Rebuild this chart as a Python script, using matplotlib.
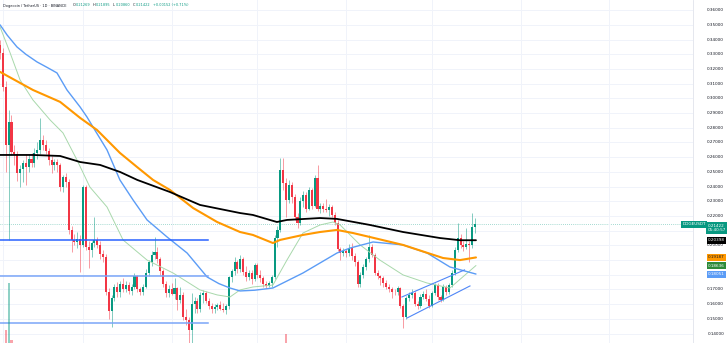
import numpy as np
import matplotlib.pyplot as plt
from matplotlib.transforms import blended_transform_factory

# DOGE/USDT daily candles, one entry per day starting Jan 31
first_open = 0.336
closes = [
    .331, .308, .268, .284, .2635, .262, .249, .252, .256, .253,
    .259, .256, .263, .265, .2717, .268, .264, .258, .255, .257,
    .2547, .2397, .2465, .2431, .2105, .2037, .2025, .2045, .2005, .2397,
    .199, .197, .2015, .2035, .200, .194, .192, .168, .1555, .164,
    .172, .168, .174, .170, .173, .169, .172, .179, .170, .168,
    .172, .181, .1887, .1935, .1955, .1905, .1825, .1735, .1675, .1705,
    .167, .171, .163, .1665, .1515, .149, .1425, .160, .1625, .157,
    .1665, .1675, .1625, .1585, .1565, .158, .1595, .157, .156, .1585,
    .1785, .1825, .1887, .184, .1905, .182, .1785, .181, .177, .1865,
    .180, .1775, .174, .1725, .1745, .1785, .205, .2105, .2513, .2425,
    .2309, .241, .233, .219, .2152, .230, .234, .225, .2377, .227,
    .2458, .225, .2265, .225, .224, .2258, .2207, .2155, .1975, .1945,
    .196, .1945, .198, .1925, .1887, .174, .180, .185, .1905, .199,
    .1935, .1812, .179, .1775, .1745, .172, .170, .1685, .168, .171,
    .159, .1513, .1642, .1665, .1676, .160, .1585, .165, .167, .1635,
    .1585, .1676, .173, .165, .163, .1717, .168, .173, .1812, .1969,
    .205, .200, .199, .201, .200, .21269, .21422,
]
highs = [
    .340, .334, .312, .292, .289, .268, .264, .255, .258, .262,
    .262, .263, .266, .270, .2867, .275, .272, .266, .261, .259,
    .259, .256, .248, .249, .245, .213, .208, .209, .207, .241,
    .241, .203, .203, .219, .206, .203, .197, .194, .171, .166,
    .174, .175, .176, .178, .176, .175, .174, .181, .180, .172,
    .174, .184, .190, .196, .2057, .199, .192, .184, .176, .173,
    .1745, .178, .172, .172, .168, .157, .151, .1676, .165, .164,
    .168, .1697, .169, .164, .161, .160, .161, .162, .161, .160,
    .179, .184, .192, .190, .1935, .192, .186, .1835, .183, .188,
    .188, .183, .179, .176, .176, .180, .207, .213, .2595, .2595,
    .246, .2445, .243, .235, .222, .233, .237, .236, .240, .239,
    .248, .2547, .229, .229, .2315, .228, .2275, .2225, .217, .199,
    .1985, .1975, .201, .2016, .195, .190, .182, .187, .192, .207,
    .201, .195, .183, .180, .179, .1765, .174, .172, .1705, .1725,
    .172, .160, .1655, .168, .170, .169, .162, .167, .169, .170,
    .166, .169, .1745, .1745, .1665, .1735, .173, .1745, .183, .199,
    .2152, .208, .203, .2118, .203, .222, .21895,
]
lows = [
    .327, .305, .250, .2035, .2615, .255, .244, .240, .243, .241,
    .250, .253, .253, .259, .262, .265, .262, .255, .249, .251,
    .250, .237, .236, .240, .208, .1955, .200, .198, .1819, .199,
    .197, .1845, .192, .199, .198, .191, .189, .166, .150, .1445,
    .162, .165, .165, .168, .168, .167, .166, .170, .168, .166,
    .166, .171, .179, .186, .191, .188, .180, .172, .165, .165,
    .166, .1635, .156, .161, .149, .146, .129, .130, .154, .154,
    .155, .161, .161, .157, .154, .154, .156, .156, .155, .1535,
    .157, .175, .180, .181, .182, .180, .176, .1765, .174, .176,
    .178, .175, .172, .171, .1717, .172, .177, .199, .2091, .238,
    .219, .229, .229, .217, .2118, .214, .226, .223, .224, .225,
    .226, .2235, .222, .223, .2225, .220, .219, .214, .196, .190,
    .1925, .192, .193, .190, .186, .1717, .172, .178, .1835, .189,
    .192, .180, .177, .173, .172, .170, .168, .1642, .166, .1665,
    .1575, .1438, .150, .162, .164, .1585, .1565, .1575, .1635, .162,
    .1575, .158, .166, .163, .1615, .162, .1665, .167, .172, .180,
    .1955, .198, .1965, .1975, .1887, .1985, .2086,
]

# visible volume bars (bar index, volume in billions)
vol_idx = [2, 3, 4, 100]
vol_val = [1.5, 7.0, 0.4, 1.05]

# moving averages read at sample bars: (bar index, price)
ma_black = [(0, .2615), (11.5, .2615), (21, .2608), (28, .2567), (35, .2547),
            (42, .2499), (48, .2445), (59.4, .2363), (69.9, .2275), (83.9, .222),
            (88.4, .2207), (96.8, .2159), (100.3, .2173), (111.9, .2186),
            (117.8, .218), (129.3, .2139), (140.9, .2091), (153.8, .205),
            (160.8, .2035), (166.4, .2035)]
ma_orange = [(0, .318), (7, .3105), (11.5, .3057), (21, .2976), (28, .2867),
             (33.9, .2785), (41.9, .2629), (47.9, .2533), (53.5, .2445),
             (59.4, .2377), (67.5, .2254), (75.9, .2159), (83.9, .2091),
             (88.4, .2071), (95.4, .2016), (97.9, .2037), (105.9, .2071),
             (111.9, .2091), (117.8, .2105), (123.4, .2084), (129.3, .2057),
             (140.9, .2003), (154.9, .1914), (160.8, .190), (166.4, .1918)]
ma_blue = [(0, .350), (2.5, .343), (5.9, .335), (9, .330), (12.9, .3248),
           (16.5, .321), (19.9, .3173), (23.4, .3057), (28, .2941), (30.4, .2873),
           (32.5, .2805), (37.4, .2649), (41.9, .2445), (46.5, .2309),
           (51.4, .2173), (58.4, .2057), (65.4, .1948), (72.4, .1785), (76.5, .174),
           (80.4, .171), (83.9, .169), (89, .1695), (95.4, .171), (105.9, .1812),
           (117.8, .1948), (122.4, .1982), (130.4, .2023), (140.9, .2003),
           (149.3, .1948), (157.3, .1853), (166.4, .1805)]
ma_green = [(0, .3486), (3.5, .331), (7, .3125), (11.5, .2989), (17.5, .2853),
            (22, .2765), (26.9, .2581), (31.4, .2397), (37.4, .2261), (43, .2037),
            (51.4, .190), (60.5, .1812), (69.9, .1697), (75.9, .1663), (80.4, .1649),
            (83.9, .1697), (88.4, .1717), (95.4, .173), (100.3, .190), (105.9, .2084),
            (111.9, .2139), (116.4, .2159), (118.9, .2139), (125.9, .2003),
            (132.8, .190), (140.9, .1799), (149.3, .1744), (157.3, .171),
            (166.4, .1863)]

# drawings: horizontal levels ending at bar 72.7, rising channel
levels = [(.2037, '#2962ff', 1.1), (.179, '#7aa5f8', 1.1), (.1472, '#7aa5f8', 1.1)]
level_end = 72.7
chan_upper = [(140.5, .1649), (162.4, .1833)]
chan_lower = [(142.3, .1506), (164.3, .1724)]

month_starts = [1, 29, 60, 90, 121, 151, 182, 213]
last_price = 0.21422

UP, DOWN = '#089981', '#f23645'

W, H = 727, 343
fig = plt.figure(figsize=(W / 100, H / 100), dpi=100)
fig.patch.set_facecolor('white')
ax = fig.add_axes([0, 0, 693 / W, 1])
ax.set_xlim(-0.02, 242.28)
ax.set_ylim(0.1336, 0.3669)
for s in ax.spines.values():
    s.set_visible(False)
ax.set_xticks(month_starts)
ax.set_yticks(np.arange(0.14, 0.3605, 0.01))
ax.tick_params(length=0, labelbottom=False, labelleft=False)
ax.grid(True, color='#f0f3fa', linewidth=0.7, zorder=0)

# volume
axv = ax.twinx()
axv.set_ylim(0, 40)
axv.axis('off')
for i, v in zip(vol_idx, vol_val):
    c = UP if closes[i] >= (closes[i - 1] if i else first_open) else DOWN
    axv.bar(i, v, width=0.75, color=c, alpha=0.45, linewidth=0)

# candles
opens = [first_open] + closes[:-1]
x = np.arange(len(closes))
o = np.array(opens)
c = np.array(closes)
up = c >= o
cols = np.where(up, UP, DOWN)
ax.vlines(x, lows, highs, colors=cols, linewidth=0.7, alpha=0.5, zorder=2)
body_lo = np.minimum(o, c)
body_h = np.maximum(np.abs(c - o), 0.0006)
ax.bar(x, body_h, bottom=body_lo, width=0.72, color=cols, linewidth=0, zorder=2)

# moving averages
for pts, col, lw in [(ma_green, '#a8d8ab', 0.7), (ma_blue, '#5b9cf6', 1.0),
                     (ma_orange, '#ff9800', 1.5), (ma_black, '#000000', 1.3)]:
    xs, ys = zip(*pts)
    ax.plot(xs, ys, color=col, linewidth=lw, zorder=3,
            solid_capstyle='round', solid_joinstyle='round')

for y, col, lw in levels:
    ax.plot([-0.02, level_end], [y, y], color=col, linewidth=lw, zorder=3)
for seg in (chan_upper, chan_lower):
    xs, ys = zip(*seg)
    ax.plot(xs, ys, color='#4f86f7', linewidth=0.8, zorder=3)

ax.axhline(last_price, color=UP, linestyle=(0, (1, 2)), linewidth=0.5, alpha=0.7, zorder=1)

# price scale
fig.add_artist(plt.Line2D([693 / W, 693 / W], [0, 1], color='#e0e3eb', linewidth=0.6))
tr = blended_transform_factory(fig.transFigure, ax.transData)
hidden = {21, 19, 18}
for p in np.arange(0.14, 0.3605, 0.01):
    if round(p * 100) in hidden:
        continue
    fig.text(724 / W, p, f'{p:.5f}', transform=tr, ha='right', va='center',
             fontsize=3, color='#131722')

boxes = [
    (0.2035, '0.20398', '#000000', 'white'),
    (0.1918, '0.19187', '#ff9800', '#131722'),
    (0.1863, '0.18636', '#2e8b3a', 'white'),
    (0.1805, '0.18051', '#5b9cf6', 'white'),
]
for p, txt, bg, fg in boxes:
    fig.text(716.5 / W, p, txt, transform=tr, ha='center', va='center', fontsize=3,
             color=fg, bbox=dict(boxstyle='square,pad=0.35', fc=bg, ec='none'))
fig.text(716.5 / W, last_price - 0.0024, '0.21422\n05:40:57', transform=tr,
         ha='center', va='center', fontsize=3, color='white', linespacing=1.1,
         bbox=dict(boxstyle='square,pad=0.35', fc=UP, ec='none'))
fig.text(694 / W, last_price + 0.0002, 'DOGEUSDT', transform=tr, ha='center',
         va='center', fontsize=3, color='white',
         bbox=dict(boxstyle='square,pad=0.35', fc=UP, ec='none'))

# legend line
ty = 1 - 5.5 / H
fig.text(3 / W, ty, 'Dogecoin / TetherUS · 1D · BINANCE', fontsize=2.55,
         color='#131722', va='center')
for xp, lab, val in [(73, 'O', '0.21269'), (93, 'H', '0.21895'),
                     (113, 'L', '0.20860'), (133, 'C', '0.21422')]:
    fig.text(xp / W, ty, lab, fontsize=2.55, color='#131722', va='center')
    fig.text((xp + 2.5) / W, ty, val, fontsize=2.55, color=UP, va='center')
fig.text(153 / W, ty, '+0.00152 (+0.71%)', fontsize=2.55, color=UP, va='center')

fig.savefig('out.png', dpi=100)
